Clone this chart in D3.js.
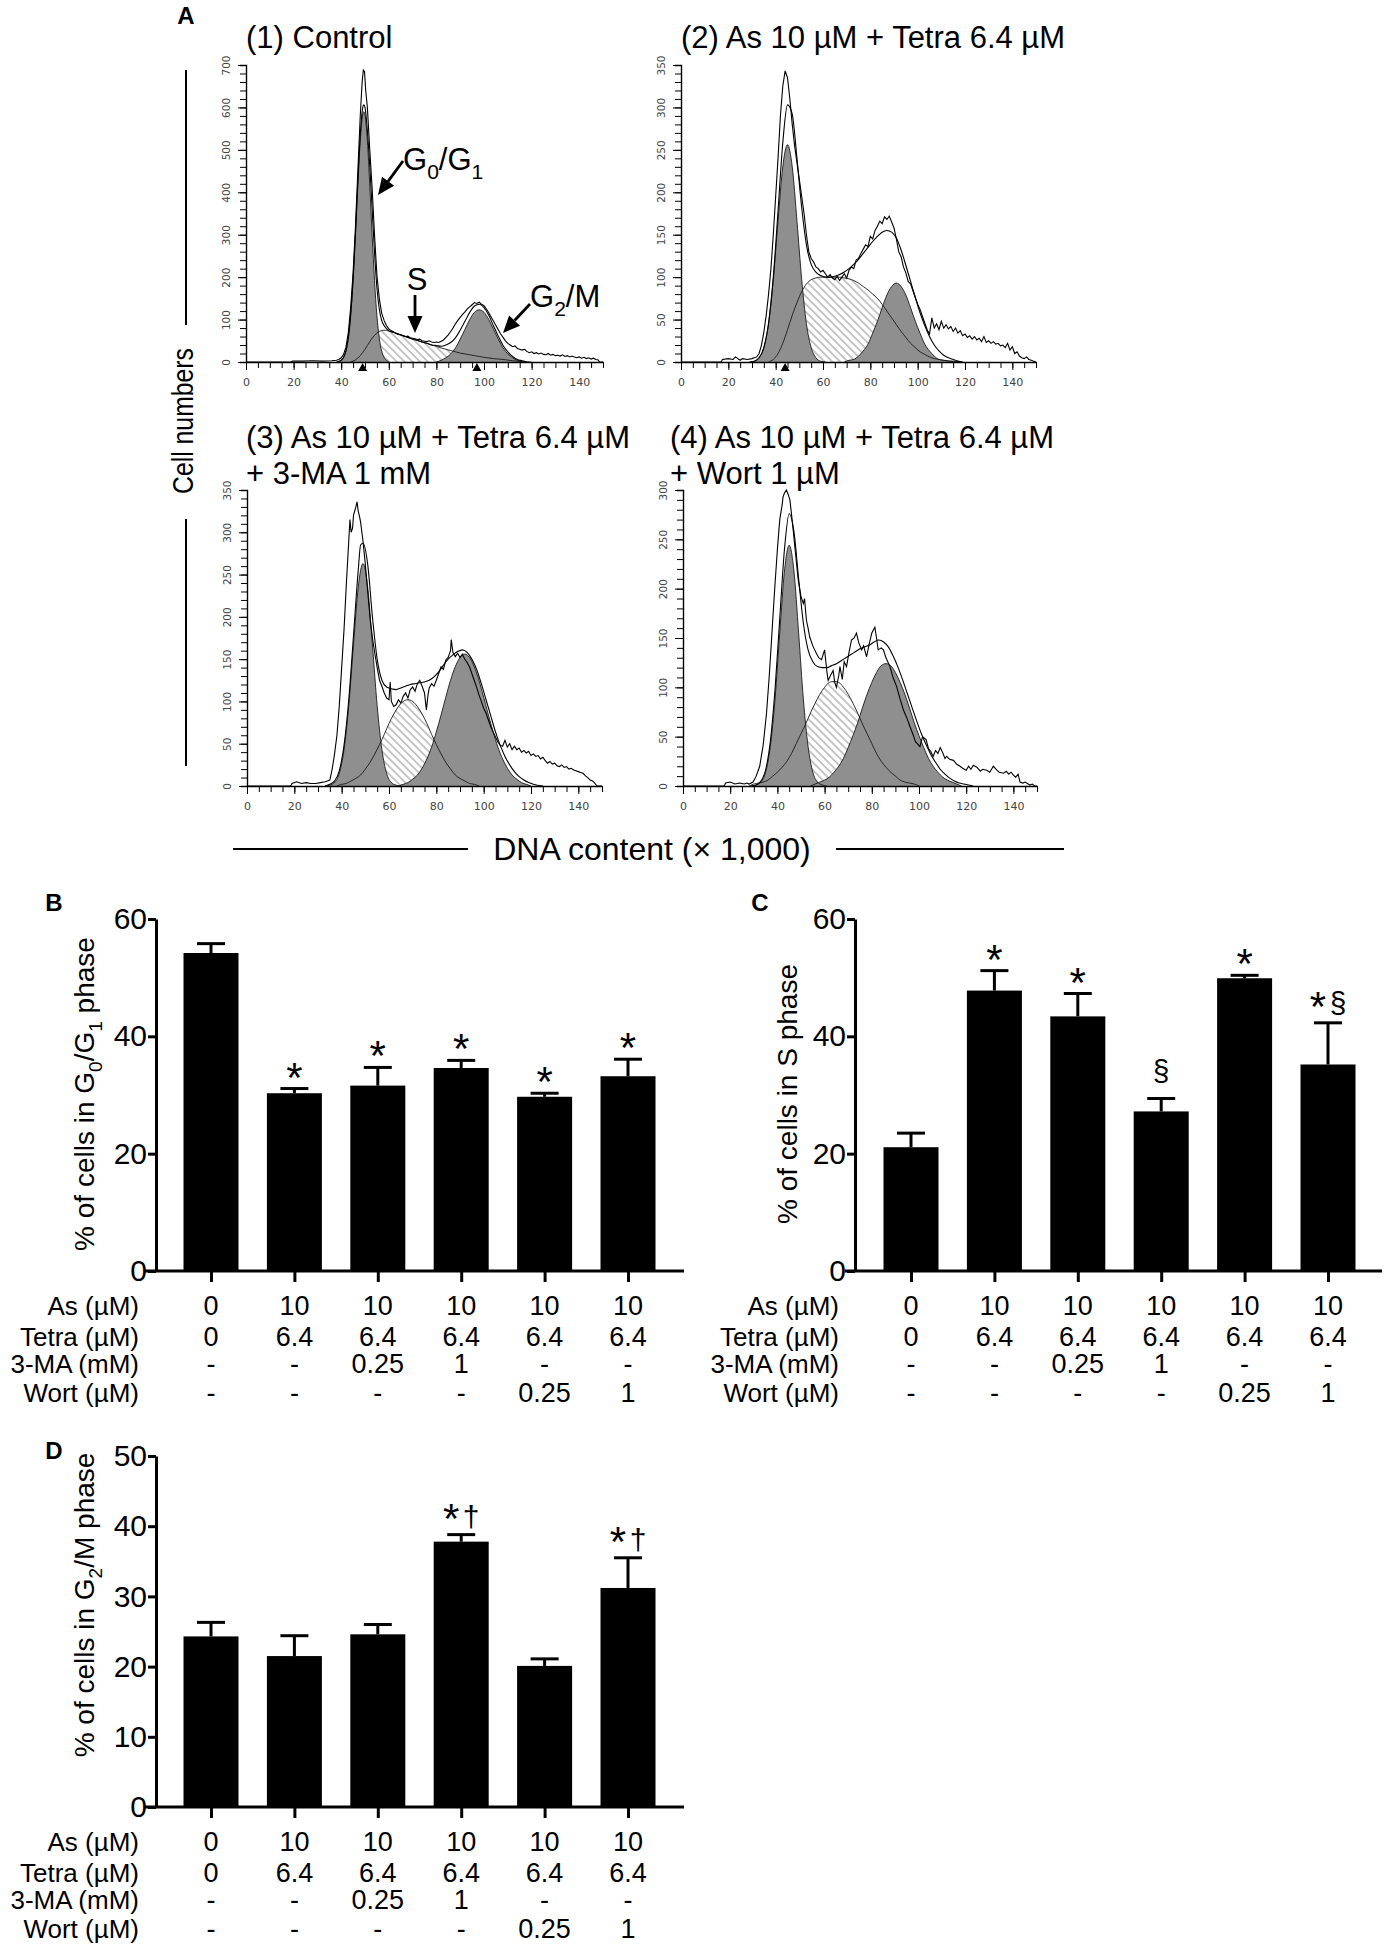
<!DOCTYPE html>
<html>
<head>
<meta charset="utf-8">
<script src="https://cdn.jsdelivr.net/npm/d3@7"></script>
<style>
  body { margin: 0; background: #fff; }
  svg { display: block; }
</style>
</head>
<body>
<svg id="chart" width="1386" height="1948"></svg>
<script>
const FONT = "'Liberation Sans', Arial, Helvetica, sans-serif";
const TICK_FONT = "'DejaVu Sans', Verdana, sans-serif";
const GREY = "#8f8f8f";

// ---------------- A: DNA histograms, pairs of [DNA content (x1000), cell count] ----------------
const histXLabels = [0, 20, 40, 60, 80, 100, 120, 140];
const hist1YLabels = [0, 100, 200, 300, 400, 500, 600, 700];
const hist2YLabels = [0, 50, 100, 150, 200, 250, 300, 350];
const hist4YLabels = [0, 50, 100, 150, 200, 250, 300];

const h1Raw = [[0,0],[19,0],[19.5,2],[24,2],[28,3],[32,2],[36,3],[38,4],[39,6],[40,10],[41,18],[42,35],[43,70],[44,130],[45,210],[46,320],[47,450],[48,580],[48.8,660],[49.3,688],[49.8,684],[50.3,640],[51,600],[52,500],[53,410],[54,300],[55,205],[56,150],[57,115],[58,98],[59,86],[60,78],[61,74],[62,71],[63,67],[64,65],[65,64],[66,62],[67,60],[68,61],[69,57],[70,56],[71,55],[72,53],[73,54],[74,50],[75,49],[76,48],[77,50],[78,47],[79,46],[80,47],[81,46],[82,49],[83,52],[84,58],[85,64],[86,72],[87,80],[88,90],[89,98],[90,105],[91,112],[92,118],[93,125],[94,130],[95,135],[96,140],[97,138],[98,141],[99,136],[100,133],[101,125],[102,116],[103,106],[104,96],[105,86],[106,76],[107,66],[108,58],[109,50],[110,44],[111,40],[112,36],[113,38],[114,32],[115,30],[116,28],[117,30],[118,25],[119,22],[120,24],[121,20],[122,22],[123,19],[124,21],[125,18],[126,17],[127,20],[128,16],[129,18],[130,15],[131,16],[132,14],[133,17],[134,13],[135,15],[136,12],[137,14],[138,12],[139,10],[140,12],[141,9],[142,11],[143,8],[144,10],[145,7],[146,9],[147,6],[148,5],[148.5,0],[150,0]];
const h1Fit = [[38,0],[40,4],[41,11],[42,27],[43,58],[44,114],[45,198],[46,306],[47,428],[48,535],[49,598],[49.5,606],[50,600],[51,545],[52,462],[53,360],[54,258],[55,175],[56,125],[57,98],[58,86],[60,74],[62,70],[64,66],[66,62],[68,58],[70,54],[72,51],[74,47],[76,44],[78,40],[80,39],[82,37],[84,40],[86,46],[88,57],[90,75],[92,96],[94,117],[96,132],[98,136],[100,128],[102,110],[104,85],[106,61],[108,39],[110,24],[112,13],[114,6],[116,3],[118,0]];
const h1G1 = [[39,0],[40,4],[41,11],[42,26],[43,56],[44,110],[45,192],[46,299],[47,417],[48,521],[49,582],[49.5,590],[50,582],[51,521],[52,417],[53,299],[54,192],[55,110],[56,56],[57,26],[58,11],[59,4],[60,0]];
const h1S = [[44,0],[46,5],[48,15],[50,30],[52,48],[54,63],[56,72],[58,75],[60,73],[62,70],[64,66],[66,62],[68,58],[70,54],[72,51],[74,47],[76,44],[78,40],[80,37],[82,33],[84,30],[86,27],[88,24],[90,21],[92,19],[94,17],[96,15],[98,13],[100,11],[104,8],[108,6],[112,3],[116,1],[120,0]];
const h1G2 = [[80,0],[82,4],[84,10],[86,19],[88,33],[90,54],[92,77],[94,100],[96,117],[98,123],[100,117],[102,100],[104,77],[106,54],[108,33],[110,19],[112,10],[114,4],[116,2],[118,0]];
const h1Peaks = [49, 97];

const h2Raw = [[0,0],[17,0],[17.5,3],[20,4],[22,3],[23,6],[25,2],[26,4],[28,3],[30,4],[32,6],[33,10],[34,20],[35,35],[36,55],[37,80],[38,110],[39,150],[40,195],[41,240],[42,290],[43,325],[44,343],[45,335],[46,310],[47,280],[48,255],[49,235],[50,215],[51,195],[52,175],[53,150],[54,130],[55,122],[56,118],[57,112],[58,110],[59,106],[60,108],[61,104],[62,100],[63,103],[64,99],[65,97],[66,101],[67,96],[68,100],[69,104],[70,99],[71,108],[72,112],[73,110],[74,120],[75,122],[76,128],[77,133],[78,138],[79,136],[80,148],[81,145],[82,155],[83,160],[84,166],[85,163],[86,171],[87,168],[88,172],[89,165],[90,158],[91,145],[92,130],[93,124],[94,112],[95,105],[96,95],[97,92],[98,84],[99,76],[100,68],[101,62],[102,54],[103,46],[104,38],[105,33],[106,52],[107,40],[108,45],[109,38],[110,48],[111,40],[112,44],[113,39],[114,42],[115,36],[116,40],[117,34],[118,37],[119,31],[120,33],[121,29],[122,31],[123,27],[124,30],[125,26],[126,28],[127,24],[128,30],[129,23],[130,25],[131,22],[132,24],[133,21],[134,22],[135,19],[136,20],[137,17],[138,22],[139,14],[140,18],[141,10],[142,12],[143,7],[144,5],[145,4],[146,6],[147,3],[148,2],[149,1],[150,0]];
const h2Fit = [[29,0],[31,1],[33,5],[35,17],[37,46],[39,100],[41,178],[43,258],[45,303],[47,292],[49,240],[51,182],[53,138],[55,115],[57,106],[59,102],[61,100],[63,100],[65,101],[67,103],[69,106],[71,110],[73,115],[75,121],[77,128],[79,135],[81,142],[83,148],[85,153],[87,155],[89,153],[91,146],[93,132],[95,114],[97,95],[99,76],[101,58],[103,43],[105,30],[107,20],[109,13],[111,8],[113,5],[115,3],[117,1],[119,0]];
const h2G1 = [[29,0],[31,1],[33,5],[35,17],[37,45],[39,97],[41,166],[43,230],[45,256],[47,230],[49,166],[51,97],[53,45],[55,17],[57,5],[59,1],[61,0]];
const h2S = [[37,0],[39,3],[41,10],[43,22],[45,38],[47,55],[49,70],[51,83],[53,92],[55,97],[57,99],[59,100],[61,100],[63,100],[65,100],[67,100],[69,99],[71,98],[73,96],[75,93],[77,89],[79,85],[81,80],[83,75],[85,68],[87,60],[89,52],[91,44],[93,36],[95,29],[97,22],[99,17],[101,12],[103,9],[105,6],[107,4],[109,3],[111,2],[115,1],[119,0]];
const h2G2 = [[69,0],[71,2],[73,3],[75,7],[77,13],[79,21],[81,34],[83,48],[85,64],[87,79],[89,89],[91,93],[93,89],[95,79],[97,64],[99,48],[101,34],[103,21],[105,13],[107,7],[109,3],[111,2],[113,1],[117,0]];
const h2Peaks = [44];

const h3Raw = [[0,0],[18.5,0],[19,3],[21,5],[23,3],[25,4],[27,3],[29,3],[31,4],[33,5],[34,6],[35,7],[36,20],[37,38],[38,60],[39,95],[40,140],[41,185],[42,240],[43,290],[43.5,315],[44,300],[44.6,305],[45,320],[46,330],[46.5,336],[47,325],[47.6,318],[48,312],[49,290],[50,262],[51,230],[52,198],[53,175],[54,157],[55,140],[56,125],[57,118],[58,110],[59,104],[60,102],[60.5,123],[61,100],[62,94],[63,96],[64,102],[65,98],[66,106],[67,110],[68,104],[69,114],[70,117],[71,112],[72,121],[73,125],[74,118],[75,110],[75.8,90],[76.5,108],[77,116],[78,121],[79,118],[80,125],[81,133],[82,141],[83,138],[84,149],[85,152],[86,160],[86.3,173],[87,158],[88,153],[89,157],[90,152],[91,156],[92,150],[93,146],[94,141],[95,133],[96,125],[97,117],[98,108],[99,100],[100,92],[101,86],[102,78],[103,70],[104,64],[105,58],[106,52],[107,48],[108,47],[109,54],[110,46],[111,50],[112,43],[113,47],[114,43],[115,45],[116,40],[117,42],[118,39],[119,41],[120,36],[121,38],[122,35],[123,36],[124,32],[125,34],[126,30],[127,27],[128,29],[129,26],[130,27],[131,24],[132,23],[133,25],[134,22],[135,23],[136,20],[137,21],[138,19],[139,18],[140,17],[141,16],[142,15],[143,12],[144,10],[145,7],[146,6],[147,3],[147.6,1],[148,0],[150,0]];
const h3Fit = [[33,0],[35,2],[37,6],[39,18],[41,48],[43,102],[45,178],[47,255],[48,285],[49,287],[51,262],[53,200],[55,150],[57,125],[59,117],[61,115],[63,114],[65,116],[67,118],[69,120],[71,121],[73,122],[75,123],[77,125],[79,129],[81,135],[83,143],[85,150],[87,155],[89,159],[91,161],[93,158],[95,150],[97,138],[99,121],[101,102],[103,83],[105,64],[107,48],[109,35],[111,25],[113,17],[115,11],[117,7],[119,4],[121,2],[125,0]];
const h3G1 = [[33,0],[35,1],[37,4],[39,15],[41,43],[43,95],[45,167],[47,235],[49,263],[51,235],[53,167],[55,95],[57,43],[59,15],[61,4],[63,1],[65,0]];
const h3S = [[38,0],[40,2],[42,3],[44,6],[46,9],[48,13],[50,20],[52,28],[54,38],[56,49],[58,61],[60,74],[62,85],[64,94],[66,100],[68,102],[70,100],[72,94],[74,85],[76,74],[78,61],[80,49],[82,38],[84,28],[86,20],[88,13],[90,9],[92,6],[94,3],[96,2],[98,0]];
const h3G2 = [[64,0],[66,2],[68,4],[70,8],[72,13],[74,21],[76,32],[78,46],[80,64],[82,84],[84,105],[86,125],[88,141],[90,152],[92,156],[94,152],[96,141],[98,125],[100,105],[102,84],[104,64],[106,46],[108,32],[110,21],[112,13],[114,8],[116,4],[118,2],[120,0]];

const h4Raw = [[0,0],[17.5,0],[18,3],[20,4],[22,2],[24,3],[26,2],[27,3],[28,2],[29.7,4],[31,10],[32.5,20],[34,42],[35.4,74],[36.5,110],[37.3,140],[38.2,175],[39,205],[40,240],[41,270],[42,285],[42.4,293],[43,297],[43.8,300],[44.5,296],[45.3,290],[46,275],[46.7,259],[47.5,240],[48.8,209],[50,192],[51,185],[51.5,190],[52.3,168],[53,160],[53.7,151],[55,142],[56.6,134],[57.5,130],[58.7,128],[60,138],[61,115],[61.5,107],[62.5,112],[63.6,117],[64.3,105],[65,100],[66,112],[66.5,121],[67.5,108],[68.3,126],[69.3,121],[70.3,135],[71.4,148],[72.5,150],[73.5,155],[74.5,145],[75.7,138],[76.5,142],[77.8,131],[79,145],[80,155],[81.3,161],[82,150],[82.7,138],[84,140],[84.9,138],[86,130],[87.7,121],[89,110],[90.5,101],[92,88],[93.4,77],[95,68],[96.2,60],[97.5,52],[98.5,45],[100.4,40],[101.5,50],[103,47],[104,38],[105,35],[106,30],[107,36],[108,33],[109,39],[110,34],[111,28],[111.7,30],[113,27],[114.6,26],[116,22],[117.4,20],[118.5,18],[120,16],[121,20],[122,17],[123,21],[124.5,19],[126,15],[127,17],[128.7,16],[130,14],[131.5,20],[133,16],[134,14],[135.8,13],[137,15],[138,12],[139,14],[140,11],[141,9],[142,12],[142.8,4],[144,3],[145,4],[147,1],[148,2],[149,0],[150,0]];
const h4Fit = [[29,0],[31,1],[33,5],[35,16],[37,45],[39,98],[41,170],[43,240],[45,276],[47,258],[49,210],[51,165],[53,138],[55,126],[57,121],[59,120],[61,120],[63,122],[65,124],[67,127],[69,130],[71,133],[73,136],[75,139],[77,141],[79,143],[81,146],[83,148],[85,146],[87,141],[89,132],[91,121],[93,108],[95,94],[97,80],[99,66],[101,53],[103,42],[105,32],[107,24],[109,17],[111,12],[113,8],[115,5],[117,3],[119,2],[121,1],[123,0]];
const h4G1 = [[29,0],[31,1],[33,4],[35,14],[37,40],[39,88],[41,155],[43,218],[45,244],[47,218],[49,155],[51,88],[53,40],[55,14],[57,4],[59,1],[61,0]];
const h4S = [[28,0],[30,2],[32,3],[34,4],[36,6],[38,10],[40,14],[42,19],[44,25],[46,33],[48,43],[50,53],[52,63],[54,74],[56,84],[58,93],[60,100],[62,105],[64,106],[66,105],[68,100],[70,93],[72,84],[74,74],[76,63],[78,53],[80,43],[82,33],[84,25],[86,19],[88,14],[90,10],[92,6],[94,4],[96,3],[98,2],[100,0]];
const h4G2 = [[54,0],[56,2],[58,4],[60,6],[62,9],[64,14],[66,20],[68,28],[70,39],[72,51],[74,64],[76,79],[78,93],[80,105],[82,115],[84,122],[86,124],[88,122],[90,115],[92,105],[94,93],[96,79],[98,64],[100,51],[102,39],[104,28],[106,20],[108,14],[110,9],[112,6],[114,4],[116,2],[118,0]];

const histTitles = [
  ["(1) Control"],
  ["(2) As 10 µM + Tetra 6.4 µM"],
  ["(3) As 10 µM + Tetra 6.4 µM", "+ 3-MA 1 mM"],
  ["(4) As 10 µM + Tetra 6.4 µM", "+ Wort 1 µM"]
];

// ---------------- B-D: bar charts (% of cells, mean and SEM) ----------------
const rowLabels = ["As (µM)", "Tetra (µM)", "3-MA (mM)", "Wort (µM)"];
const asDose = ["0", "10", "10", "10", "10", "10"];
const tetraDose = ["0", "6.4", "6.4", "6.4", "6.4", "6.4"];
const maDose = ["-", "-", "0.25", "1", "-", "-"];
const wortDose = ["-", "-", "-", "-", "0.25", "1"];

const g1Mean = [54.2, 30.3, 31.6, 34.6, 29.7, 33.2];
const g1Err  = [1.6, 0.8, 3.1, 1.3, 0.6, 2.9];
const g1Marks = ["", "*", "*", "*", "*", "*"];
const sMean = [21.1, 47.8, 43.4, 27.2, 49.9, 35.2];
const sErr  = [2.4, 3.4, 3.9, 2.2, 0.5, 7.1];
const sMarks = ["", "*", "*", "§", "*", "*§"];
const g2Mean = [24.3, 21.5, 24.6, 37.8, 20.1, 31.2];
const g2Err  = [2.0, 2.9, 1.4, 1.0, 1.0, 4.3];
const g2Marks = ["", "", "", "*†", "", "*†"];
const ticks60 = [0, 20, 40, 60];
const ticks50 = [0, 10, 20, 30, 40, 50];

const svg = d3.select("#chart");

const defs = svg.append("defs");
defs.append("pattern")
  .attr("id", "hatch")
  .attr("patternUnits", "userSpaceOnUse")
  .attr("width", 5.5).attr("height", 5.5)
  .attr("patternTransform", "rotate(-45)")
  .append("line")
  .attr("x1", 2.75).attr("y1", 0).attr("x2", 2.75).attr("y2", 5.5)
  .attr("stroke", "#9a9a9a").attr("stroke-width", 1.1);

function subText(sel, parts, size) {
  // parts: [text, isSubscript]
  parts.forEach(([t, sub], i) => {
    const prevSub = i > 0 && parts[i - 1][1];
    sel.append("tspan")
      .attr("font-size", sub ? size * 0.68 : size)
      .attr("dy", sub ? size * 0.28 : (prevSub ? -size * 0.28 : 0))
      .text(t);
  });
}

function arrow(x1, y1, x2, y2) {
  const ang = Math.atan2(y2 - y1, x2 - x1);
  const len = 17, half = 7.5;
  const bx = x2 - len * Math.cos(ang), by = y2 - len * Math.sin(ang);
  svg.append("line")
    .attr("x1", x1).attr("y1", y1).attr("x2", bx).attr("y2", by)
    .attr("stroke", "#000").attr("stroke-width", 2.8);
  svg.append("path")
    .attr("d", `M${x2},${y2}L${bx + half * Math.sin(ang)},${by - half * Math.cos(ang)}L${bx - half * Math.sin(ang)},${by + half * Math.cos(ang)}Z`)
    .attr("fill", "#000");
}

function drawHist(p) {
  const x = d3.scaleLinear().domain([0, 150]).range([p.x0, p.x1]);
  const y = d3.scaleLinear().domain([0, p.ymax]).range([p.y0, p.y1]);
  const g = svg.append("g");

  const area = d3.area().x(d => x(d[0])).y0(y(0)).y1(d => y(d[1])).curve(d3.curveMonotoneX);
  const smooth = d3.line().x(d => x(d[0])).y(d => y(d[1])).curve(d3.curveMonotoneX);
  const jagged = d3.line().x(d => x(d[0])).y(d => y(d[1]));

  g.append("path").datum(p.s).attr("d", area).attr("fill", "url(#hatch)");
  g.append("path").datum(p.g1).attr("d", area).attr("fill", GREY);
  g.append("path").datum(p.g2).attr("d", area).attr("fill", GREY);
  [p.g1, p.s, p.g2].forEach(c => {
    g.append("path").datum(c).attr("d", smooth)
      .attr("fill", "none").attr("stroke", "#1a1a1a").attr("stroke-width", 0.9);
  });
  g.append("path").datum(p.fit).attr("d", smooth)
    .attr("fill", "none").attr("stroke", "#000").attr("stroke-width", 1.1);
  g.append("path").datum(p.raw).attr("d", jagged)
    .attr("fill", "none").attr("stroke", "#000").attr("stroke-width", 1.1);

  // y axis: minor ticks, then the labelled ones
  g.append("g").attr("transform", `translate(${p.x0},0)`)
    .call(d3.axisLeft(y).tickValues(d3.range(0, p.ymax + 1, p.yMinor)).tickSize(6).tickFormat(""))
    .call(a => a.select(".domain").attr("stroke-width", 1.4));
  const ya = g.append("g").attr("transform", `translate(${p.x0},0)`)
    .call(d3.axisLeft(y).tickValues(p.yLabels).tickSize(8).tickSizeOuter(0));
  ya.select(".domain").remove();
  ya.selectAll("text")
    .attr("x", 0).attr("y", -16).attr("dy", 0)
    .attr("transform", "rotate(-90)")
    .attr("text-anchor", "middle")
    .attr("font-family", TICK_FONT).attr("font-size", 10.5).attr("fill", "#444");

  // x axis
  g.append("g").attr("transform", `translate(0,${p.y0})`)
    .call(d3.axisBottom(x).tickValues(d3.range(0, 151, 5)).tickSize(6).tickFormat("").tickSizeOuter(0))
    .call(a => a.select(".domain").attr("stroke-width", 1.4));
  const xa = g.append("g").attr("transform", `translate(0,${p.y0})`)
    .call(d3.axisBottom(x).tickValues(histXLabels).tickSize(8).tickPadding(8));
  xa.select(".domain").remove();
  xa.selectAll("text").attr("font-family", TICK_FONT).attr("font-size", 11).attr("fill", "#444");

  (p.peaks || []).forEach(v => {
    g.append("path")
      .attr("d", `M${x(v)},${p.y0 + 1}l-4.5,8h9z`)
      .attr("fill", "#000");
  });

  p.title.forEach((t, i) => {
    svg.append("text")
      .attr("x", p.tx).attr("y", p.ty + i * 36)
      .attr("font-family", FONT).attr("font-size", 31)
      .text(t);
  });
}

drawHist({ x0: 246, x1: 603, y0: 362, y1: 65, ymax: 700, yMinor: 20, yLabels: hist1YLabels,
  raw: h1Raw, fit: h1Fit, g1: h1G1, s: h1S, g2: h1G2, peaks: h1Peaks,
  title: histTitles[0], tx: 246, ty: 48 });
drawHist({ x0: 681, x1: 1036, y0: 362, y1: 65, ymax: 350, yMinor: 10, yLabels: hist2YLabels,
  raw: h2Raw, fit: h2Fit, g1: h2G1, s: h2S, g2: h2G2, peaks: h2Peaks,
  title: histTitles[1], tx: 681, ty: 48 });
drawHist({ x0: 247, x1: 602, y0: 786, y1: 490, ymax: 350, yMinor: 10, yLabels: hist2YLabels,
  raw: h3Raw, fit: h3Fit, g1: h3G1, s: h3S, g2: h3G2,
  title: histTitles[2], tx: 246, ty: 448 });
drawHist({ x0: 683, x1: 1037, y0: 786, y1: 490, ymax: 300, yMinor: 10, yLabels: hist4YLabels,
  raw: h4Raw, fit: h4Fit, g1: h4G1, s: h4S, g2: h4G2,
  title: histTitles[3], tx: 670, ty: 448 });

// phase labels in panel (1)
subText(svg.append("text").attr("x", 403).attr("y", 170).attr("font-family", FONT),
  [["G", false], ["0", true], ["/G", false], ["1", true]], 31);
arrow(403, 161, 378, 195);
svg.append("text").attr("x", 417).attr("y", 290).attr("text-anchor", "middle")
  .attr("font-family", FONT).attr("font-size", 31).text("S");
arrow(415, 295, 415, 333);
subText(svg.append("text").attr("x", 530).attr("y", 307).attr("font-family", FONT),
  [["G", false], ["2", true], ["/M", false]], 31);
arrow(530, 304, 503, 333);

// shared axis titles of panel A
svg.append("text").attr("x", 186).attr("y", 16).attr("dy", "0.35em").attr("text-anchor", "middle")
  .attr("font-family", FONT).attr("font-weight", "bold").attr("font-size", 24).text("A");
svg.append("text")
  .attr("transform", "translate(193,421) rotate(-90)")
  .attr("text-anchor", "middle")
  .attr("textLength", 146).attr("lengthAdjust", "spacingAndGlyphs")
  .attr("font-family", FONT).attr("font-size", 29).text("Cell numbers");
svg.append("line").attr("x1", 186).attr("x2", 186).attr("y1", 70).attr("y2", 325).attr("stroke", "#000").attr("stroke-width", 2);
svg.append("line").attr("x1", 186).attr("x2", 186).attr("y1", 519).attr("y2", 766).attr("stroke", "#000").attr("stroke-width", 2);
svg.append("text").attr("x", 652).attr("y", 860).attr("text-anchor", "middle")
  .attr("font-family", FONT).attr("font-size", 32).text("DNA content (× 1,000)");
svg.append("line").attr("x1", 233).attr("x2", 468).attr("y1", 849).attr("y2", 849).attr("stroke", "#000").attr("stroke-width", 2);
svg.append("line").attr("x1", 836).attr("x2", 1064).attr("y1", 849).attr("y2", 849).attr("stroke", "#000").attr("stroke-width", 2);

// ---------------- bar panels ----------------
const markSize = { "*": 42, "§": 30, "†": 30 };
const markShift = { "*": 3, "§": -18, "†": -10 };
const pairShift = { "*": -2, "§": -10, "†": -8 };
const rowOffsets = [44, 75, 102, 131];

function drawBars(p) {
  const x = d3.scalePoint().domain(d3.range(6)).range([p.cx0, p.cx1]);
  const y = d3.scaleLinear().domain([0, p.ymax]).range([p.y0, p.y1]);
  const g = svg.append("g");
  const bw = 55;

  g.selectAll("rect.bar").data(p.mean).join("rect")
    .attr("x", (d, i) => x(i) - bw / 2).attr("y", d => y(d))
    .attr("width", bw).attr("height", d => y(0) - y(d))
    .attr("fill", "#000");

  g.selectAll("line.err").data(p.mean).join("line")
    .attr("x1", (d, i) => x(i)).attr("x2", (d, i) => x(i))
    .attr("y1", d => y(d)).attr("y2", (d, i) => y(d + p.err[i]))
    .attr("stroke", "#000").attr("stroke-width", 3);
  g.selectAll("line.cap").data(p.mean).join("line")
    .attr("x1", (d, i) => x(i) - 14).attr("x2", (d, i) => x(i) + 14)
    .attr("y1", (d, i) => y(d + p.err[i])).attr("y2", (d, i) => y(d + p.err[i]))
    .attr("stroke", "#000").attr("stroke-width", 3);

  // significance marks above the error caps
  p.marks.forEach((m, i) => {
    const chars = Array.from(m);
    const pair = chars.length > 1;
    const offs = pair ? [-10, 10] : [0];
    chars.forEach((c, k) => {
      g.append("text")
        .attr("x", x(i) + offs[k])
        .attr("y", y(p.mean[i] + p.err[i]) + (pair ? pairShift[c] : markShift[c]))
        .attr("text-anchor", "middle")
        .attr("font-family", FONT).attr("font-size", markSize[c])
        .text(c);
    });
  });

  // y axis
  g.append("g").attr("transform", `translate(${p.axisX},0)`)
    .call(d3.axisLeft(y).tickValues(p.ticks).tickSize(8).tickPadding(1).tickSizeOuter(0))
    .call(a => a.select(".domain").attr("stroke-width", 3))
    .call(a => a.selectAll(".tick line").attr("stroke-width", 3))
    .call(a => a.selectAll("text").attr("font-family", FONT).attr("font-size", 30).attr("fill", "#000"));

  // x axis with ticks at the bar centres
  g.append("line").attr("x1", p.axisStart).attr("x2", p.axisEnd)
    .attr("y1", p.y0).attr("y2", p.y0).attr("stroke", "#000").attr("stroke-width", 3);
  g.append("g").attr("transform", `translate(0,${p.y0})`)
    .call(d3.axisBottom(x).tickSize(11).tickFormat("").tickSizeOuter(0))
    .call(a => a.select(".domain").remove())
    .call(a => a.selectAll(".tick line").attr("stroke-width", 3));

  // treatment table
  const rows = [asDose, tetraDose, maDose, wortDose];
  rows.forEach((vals, r) => {
    const yy = p.y0 + rowOffsets[r];
    g.append("text").attr("x", p.labelX).attr("y", yy).attr("text-anchor", "end")
      .attr("font-family", FONT).attr("font-size", 26).text(rowLabels[r]);
    g.selectAll(null).data(vals).join("text")
      .attr("x", (d, i) => x(i)).attr("y", yy).attr("text-anchor", "middle")
      .attr("font-family", FONT).attr("font-size", 27).text(d => d);
  });

  // y title
  const t = g.append("text")
    .attr("transform", `translate(${p.titleX},${p.titleY}) rotate(-90)`)
    .attr("text-anchor", "middle").attr("font-family", FONT);
  subText(t, p.title, 28);

  g.append("text").attr("x", p.letterX).attr("y", p.letterY).attr("dy", "0.35em")
    .attr("text-anchor", "middle").attr("font-family", FONT).attr("font-weight", "bold")
    .attr("font-size", 24).text(p.letter);
}

drawBars({ cx0: 211, cx1: 628, axisX: 156, y0: 1271, y1: 919, ymax: 60, ticks: ticks60,
  axisStart: 145, axisEnd: 684, labelX: 139, titleX: 94, titleY: 1094,
  mean: g1Mean, err: g1Err, marks: g1Marks, letter: "B", letterX: 54, letterY: 903,
  title: [["% of cells in G", false], ["0", true], ["/G", false], ["1", true], [" phase", false]] });
drawBars({ cx0: 911, cx1: 1328, axisX: 855, y0: 1271, y1: 919, ymax: 60, ticks: ticks60,
  axisStart: 845, axisEnd: 1382, labelX: 839, titleX: 797, titleY: 1094,
  mean: sMean, err: sErr, marks: sMarks, letter: "C", letterX: 760, letterY: 903,
  title: [["% of cells in S phase", false]] });
drawBars({ cx0: 211, cx1: 628, axisX: 156, y0: 1807, y1: 1456, ymax: 50, ticks: ticks50,
  axisStart: 145, axisEnd: 684, labelX: 139, titleX: 94, titleY: 1605,
  mean: g2Mean, err: g2Err, marks: g2Marks, letter: "D", letterX: 54, letterY: 1451,
  title: [["% of cells in G", false], ["2", true], ["/M phase", false]] });
</script>
</body>
</html>
